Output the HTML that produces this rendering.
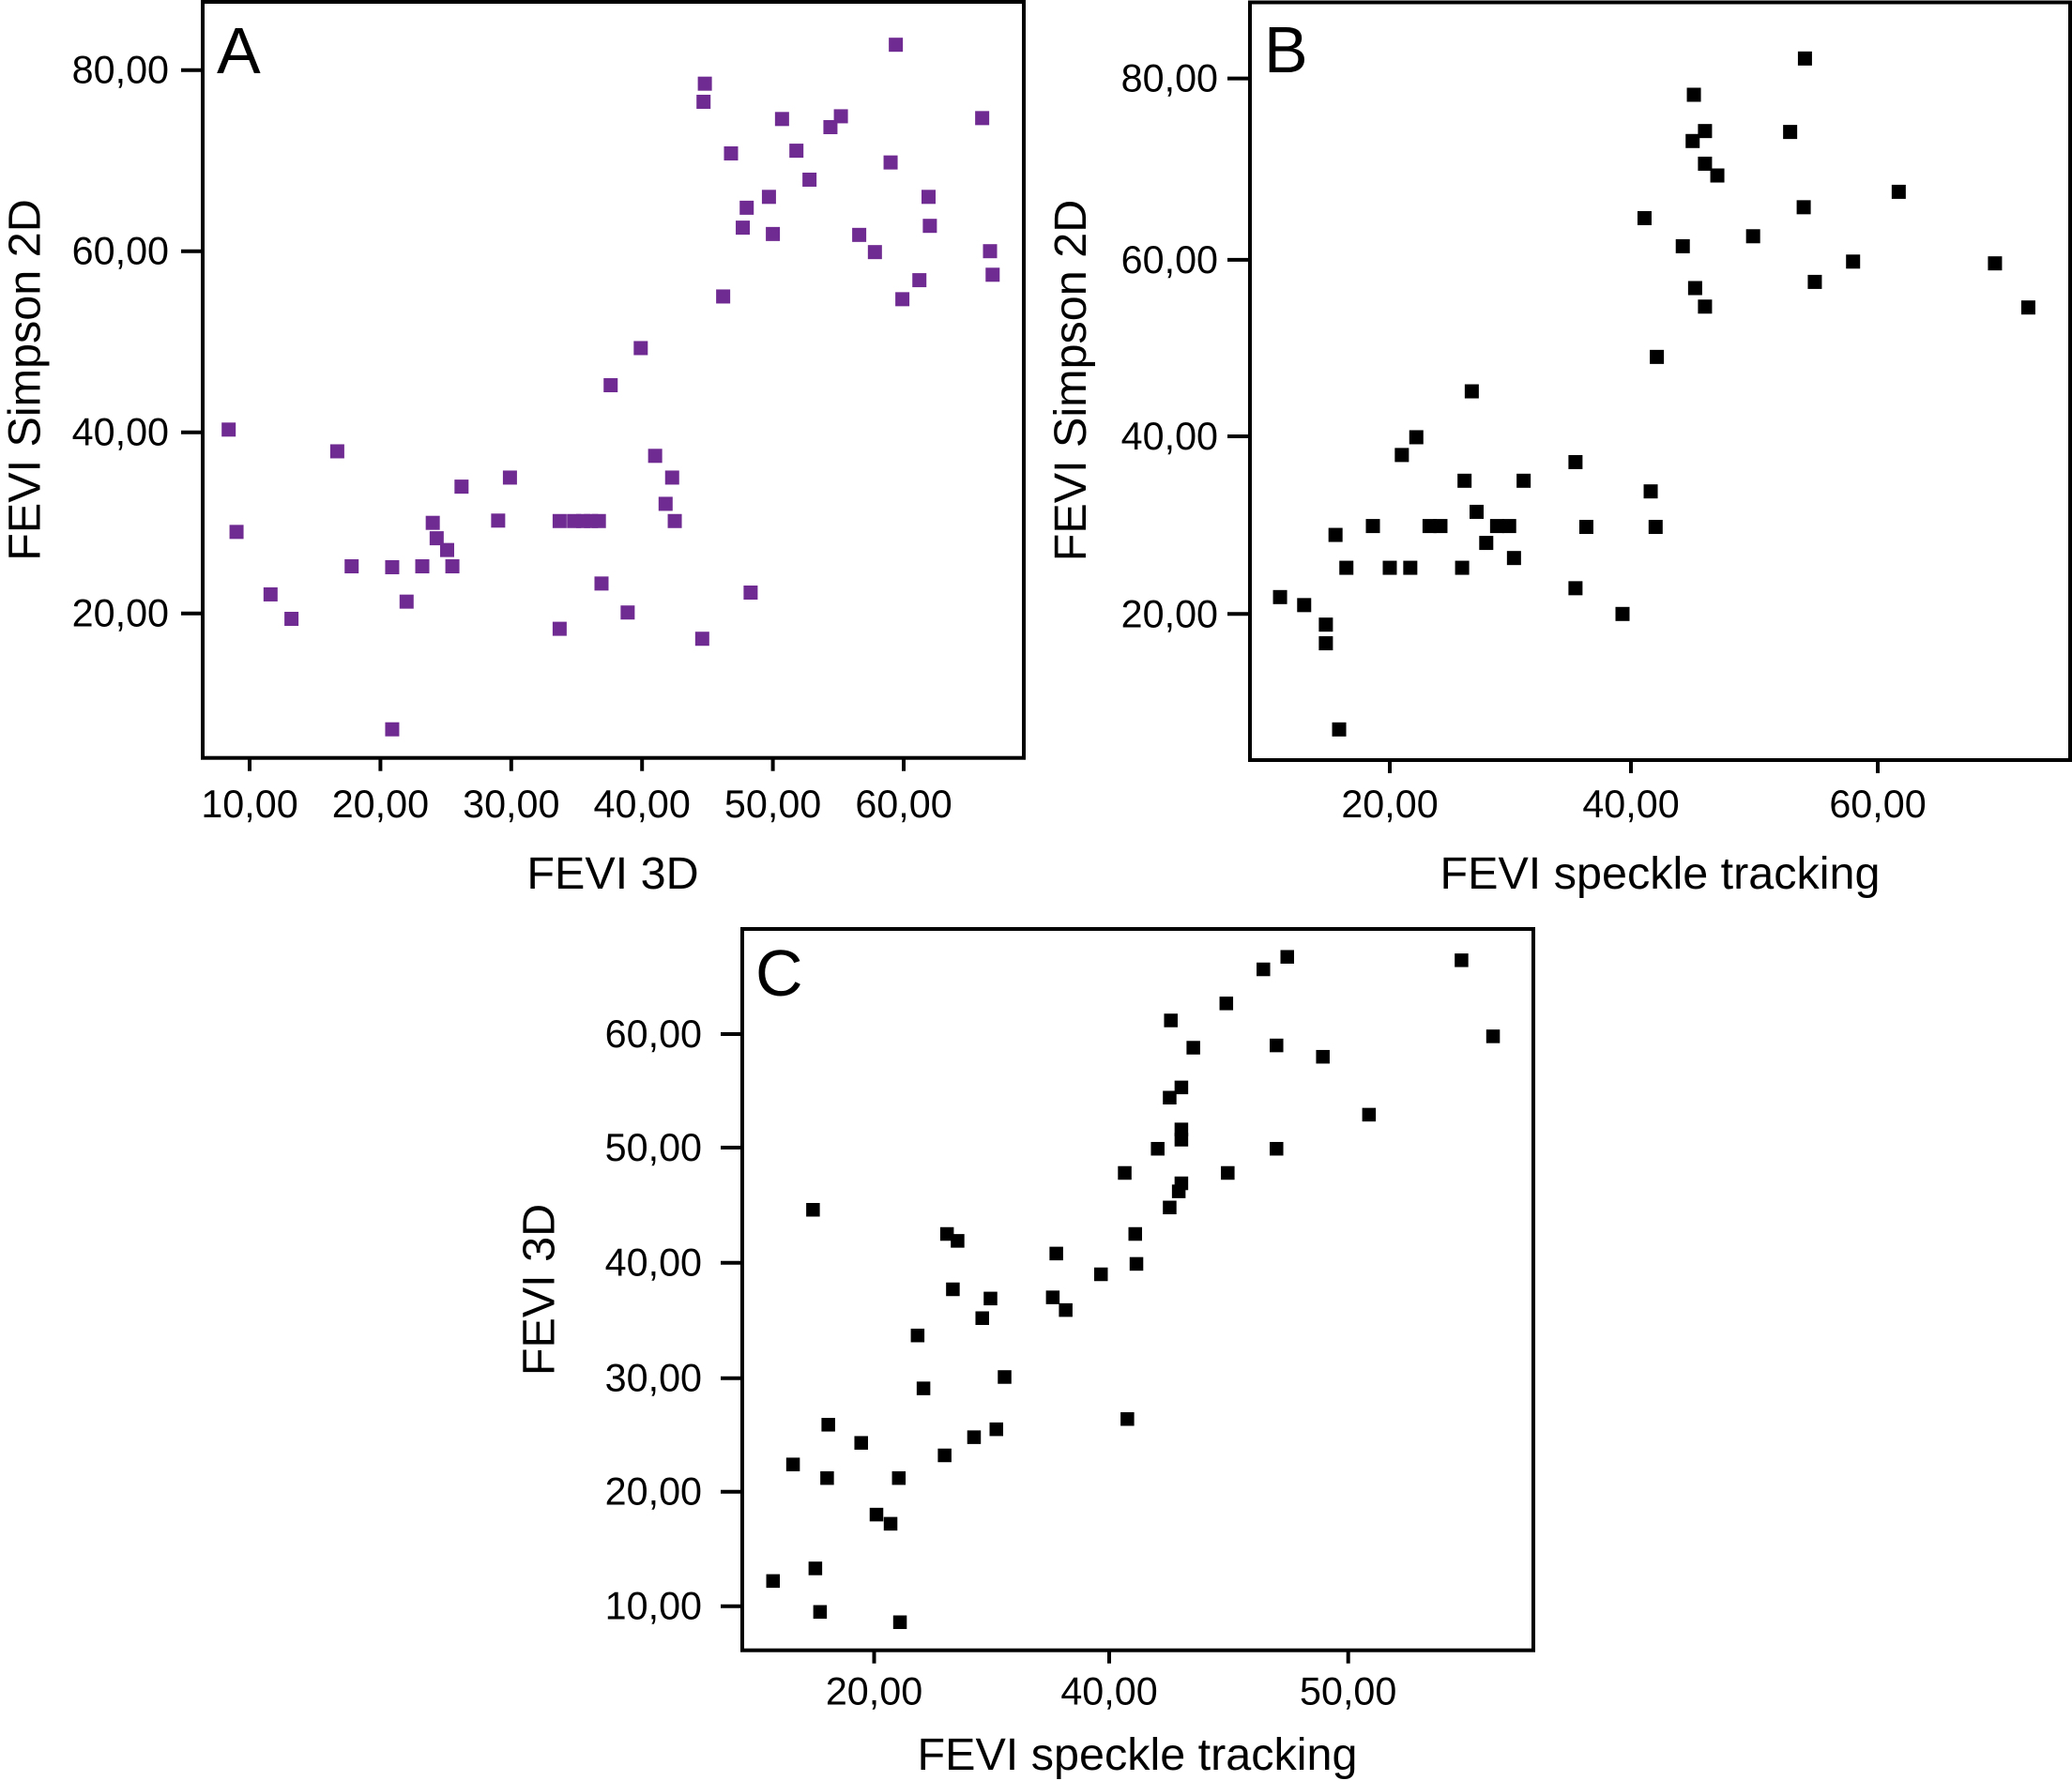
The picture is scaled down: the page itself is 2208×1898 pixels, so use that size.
<!DOCTYPE html>
<html lang="en">
<head>
<meta charset="utf-8">
<title>FEVI scatter plots</title>
<style>
html,body{margin:0;padding:0;background:#fff;}
svg{display:block;}
text{font-family:"Liberation Sans",Arial,sans-serif;fill:#000;}
.tick-label{font-size:41.3px;}
.axis-title{font-size:48.5px;text-anchor:middle;}
.panel-letter{font-size:70px;}
</style>
</head>
<body>
<svg id="chart" xmlns="http://www.w3.org/2000/svg" width="2208" height="1898" viewBox="0 0 2208 1898">
  <rect x="0" y="0" width="2208" height="1898" fill="#ffffff"/>
  <g id="panel-a">
    <text class="panel-letter" x="231" y="78">A</text>
    <text class="axis-title" x="653" y="947">FEVI 3D</text>
    <text class="axis-title" transform="translate(42.7,405) rotate(-90)">FEVI Simpson 2D</text>
  </g>
  <g id="panel-b">
    <text class="panel-letter" x="1347" y="77">B</text>
    <text class="axis-title" x="1769" y="947">FEVI speckle tracking</text>
    <text class="axis-title" transform="translate(1157,405.5) rotate(-90)">FEVI Simpson 2D</text>
  </g>
  <g id="panel-c">
    <text class="panel-letter" x="805" y="1061">C</text>
    <text class="axis-title" x="1212" y="1886">FEVI speckle tracking</text>
    <text class="axis-title" transform="translate(590.7,1374.5) rotate(-90)">FEVI 3D</text>
  </g>
</svg>
<script>
// Tick labels
const panelAXTicks = [10, 20, 30, 40, 50, 60];
const panelAYTicks = [20, 40, 60, 80];
const panelBXTicks = [20, 40, 60];
const panelBYTicks = [20, 40, 60, 80];
const panelCXTicks = [20, 40, 50];
const panelCYTicks = [10, 20, 30, 40, 50, 60];

// Panel A: FEVI 3D vs FEVI Simpson 2D
const panelAX = [8.4,9.0,11.6,13.2,16.7,17.8,20.9,20.9,22.0,23.2,24.0,24.3,25.1,25.5,26.2,29.0,29.9,33.7,33.7,34.8,35.5,36.1,36.7,36.9,37.6,38.9,39.9,41.0,41.8,42.3,42.5,44.6,44.7,44.8,46.2,46.8,47.7,48.0,48.3,49.7,50.0,50.7,51.8,52.8,54.4,55.2,56.6,57.8,59.0,59.4,59.9,61.2,61.9,62.0,66.0,66.6,66.8];
const panelAY = [40.3,29.0,22.1,19.4,37.9,25.2,25.1,7.2,21.3,25.2,30.0,28.3,27.0,25.2,34.0,30.25,35.0,30.2,18.3,30.2,30.2,30.2,30.2,23.3,45.2,20.1,49.3,37.4,32.1,35.0,30.2,17.2,76.5,78.5,55.0,70.8,62.6,64.8,22.3,66.0,61.9,74.6,71.1,67.9,73.7,74.9,61.8,59.9,69.8,82.8,54.7,56.8,66.0,62.8,74.7,60.0,57.4];

// Panel B: FEVI speckle tracking vs FEVI Simpson 2D
const panelBX = [10.9,12.9,14.7,14.7,15.8,15.5,16.4,18.6,20.0,21.0,21.7,22.2,23.3,24.2,26.0,26.2,26.8,27.2,28.0,28.9,29.9,30.3,31.1,35.4,35.4,36.3,39.3,41.1,41.6,42.0,42.1,44.2,45.0,45.1,45.2,46.0,46.0,46.0,47.0,49.9,52.9,54.0,54.1,54.9,58.0,61.7,69.5,72.2];
const panelBY = [21.9,21.0,18.8,16.7,7.0,28.9,25.2,29.9,25.2,37.9,25.2,39.9,29.9,29.9,25.2,35.0,45.1,31.5,28.0,29.9,29.9,26.3,35.0,37.1,22.9,29.8,20.0,64.6,33.8,29.8,49.0,61.5,73.1,78.2,56.8,74.2,70.6,54.7,69.3,62.6,74.1,65.8,82.2,57.5,59.8,67.5,59.6,54.6];

// Panel C: FEVI speckle tracking vs FEVI 3D
const panelCX = [11.4,13.1,15.0,14.8,15.4,16.0,16.1,18.9,20.2,21.4,22.1,22.2,23.7,24.2,26.0,26.2,26.7,27.1,28.5,29.2,29.9,30.4,31.1,35.2,35.5,36.3,39.3,40.76,40.65,41.09,41.14,42.03,42.53,42.53,42.58,42.91,43.02,43.02,43.02,43.02,43.52,44.96,44.9,46.45,47.0,47.0,47.45,48.94,50.87,54.74,56.06];
const panelCY = [12.2,22.4,13.3,44.6,9.5,21.2,25.9,24.3,18.0,17.2,21.2,8.6,33.7,29.1,23.2,42.5,37.7,41.9,24.8,35.2,36.9,25.5,30.1,37.0,40.8,35.9,39.0,26.4,47.8,42.5,39.9,49.9,44.8,54.4,61.2,46.2,46.9,50.7,51.6,55.3,58.8,47.8,62.7,65.7,59.0,49.9,66.8,58.0,52.9,66.5,59.8];

const SVG_NS = 'http://www.w3.org/2000/svg';

// Piecewise-linear axis through calibration anchors (the printed axes are not perfectly uniform).
function makeAxis(domainAnchors, pixelAnchors) {
  return function (v) {
    let i = 0;
    while (i < domainAnchors.length - 2 && v > domainAnchors[i + 1]) i++;
    const t = (v - domainAnchors[i]) / (domainAnchors[i + 1] - domainAnchors[i]);
    return pixelAnchors[i] + t * (pixelAnchors[i + 1] - pixelAnchors[i]);
  };
}

function fmt(v) {
  return v.toFixed(2).replace('.', ',');
}

function drawPanel(cfg) {
  const group = document.getElementById(cfg.id);
  const xAxis = cfg.xAxis;
  const yAxis = cfg.yAxis;

  const frame = document.createElementNS(SVG_NS, 'rect');
  
  
  frame.setAttribute('x', cfg.left);
  frame.setAttribute('y', cfg.top);
  frame.setAttribute('width', cfg.right - cfg.left);
  frame.setAttribute('height', cfg.bottom - cfg.top);
  frame.setAttribute('fill', 'none');
  frame.setAttribute('stroke', '#000');
  frame.setAttribute('stroke-width', '4');
  group.appendChild(frame);

  cfg.xTicks.forEach(function (tick) {
    const px = xAxis(tick);
    const line = document.createElementNS(SVG_NS, 'line');
    
    
    line.setAttribute('x1', px);
    line.setAttribute('x2', px);
    line.setAttribute('y1', cfg.bottom);
    line.setAttribute('y2', cfg.bottom + 14);
    line.setAttribute('stroke', '#000');
    line.setAttribute('stroke-width', '4');
    group.appendChild(line);

    const label = document.createElementNS(SVG_NS, 'text');
    
    
    label.setAttribute('class', 'tick-label');
    label.setAttribute('x', px);
    label.setAttribute('y', cfg.xLabelBaseline);
    label.setAttribute('text-anchor', 'middle');
    label.textContent = fmt(tick);
    group.appendChild(label);
  });

  cfg.yTicks.forEach(function (tick) {
    const py = yAxis(tick);
    const line = document.createElementNS(SVG_NS, 'line');
    
    
    line.setAttribute('x1', cfg.left - cfg.yTickLen);
    line.setAttribute('x2', cfg.left);
    line.setAttribute('y1', py);
    line.setAttribute('y2', py);
    line.setAttribute('stroke', '#000');
    line.setAttribute('stroke-width', '4');
    group.appendChild(line);

    const label = document.createElementNS(SVG_NS, 'text');
    
    
    label.setAttribute('class', 'tick-label');
    label.setAttribute('x', cfg.yLabelRight);
    label.setAttribute('y', py + 14);
    label.setAttribute('text-anchor', 'end');
    label.textContent = fmt(tick);
    group.appendChild(label);
  });

  cfg.xs.forEach(function (xv, i) {
    const size = cfg.markerSize;
    const mark = document.createElementNS(SVG_NS, 'rect');
    
    
    mark.setAttribute('x', xAxis(xv) - size / 2);
    mark.setAttribute('y', yAxis(cfg.ys[i]) - size / 2);
    mark.setAttribute('width', size);
    mark.setAttribute('height', size);
    mark.setAttribute('fill', cfg.color);
    group.appendChild(mark);
  });
}

drawPanel({
  id: 'panel-a', left: 216, top: 2, right: 1091, bottom: 807.7,
  xAxis: makeAxis([10, 60], [266, 963]),
  yAxis: makeAxis([20, 80], [653.7, 74.7]),
  xTicks: panelAXTicks, yTicks: panelAYTicks, xs: panelAX, ys: panelAY,
  xLabelBaseline: 871, yLabelRight: 180, yTickLen: 23,
  markerSize: 15, color: '#702b92'
});

drawPanel({
  id: 'panel-b', left: 1332, top: 2.5, right: 2206, bottom: 810,
  xAxis: makeAxis([20, 40, 60], [1481, 1738, 2001]),
  yAxis: makeAxis([20, 40, 60, 80], [654.3, 465, 276.9, 83.6]),
  xTicks: panelBXTicks, yTicks: panelBYTicks, xs: panelBX, ys: panelBY,
  xLabelBaseline: 871, yLabelRight: 1298, yTickLen: 24,
  markerSize: 15, color: '#000000'
});

drawPanel({
  id: 'panel-c', left: 791, top: 990, right: 1634, bottom: 1758.7,
  xAxis: makeAxis([20, 40, 50, 60], [931.5, 1182, 1436.7, 1691.4]),
  yAxis: makeAxis([10, 20, 30, 40, 50, 60], [1711.7, 1589.7, 1468.7, 1345.7, 1223, 1102]),
  xTicks: panelCXTicks, yTicks: panelCYTicks, xs: panelCX, ys: panelCY,
  xLabelBaseline: 1816.7, yLabelRight: 748, yTickLen: 23,
  markerSize: 14.5, color: '#000000'
});
</script>
</body>
</html>
